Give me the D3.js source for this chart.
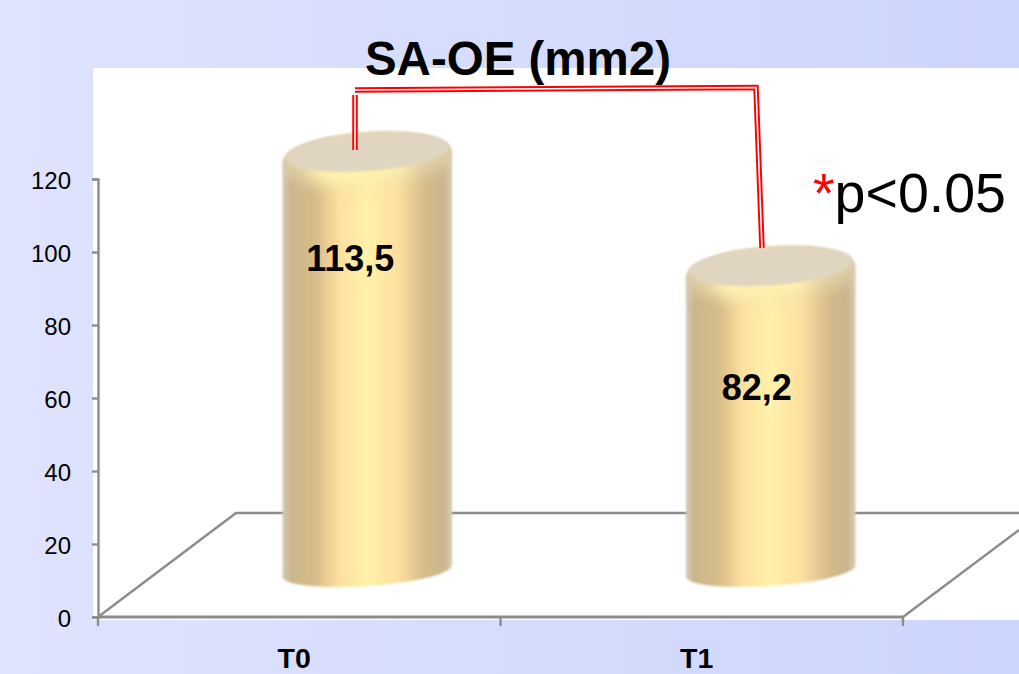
<!DOCTYPE html>
<html><head><meta charset="utf-8">
<script src="https://cdn.jsdelivr.net/npm/d3@7"></script>
<style>html,body{margin:0;padding:0;overflow:hidden}svg{display:block}text{font-family:"Liberation Sans",Arial,sans-serif}</style>
</head><body><svg id="c" width="1019" height="674"></svg>
<script>
const categories = ["T0","T1"];
const values = [113.5,82.2];
const valueLabels = ["113,5","82,2"];
const yTicks = [0,20,40,60,80,100,120];
const titleText = "SA-OE (mm2)";

const svg = d3.select("#c");
const defs = svg.append("defs");
const bg = defs.append("linearGradient").attr("id","bg");
[[0,"#dfe3fd"],[1,"#ccd5fc"]].forEach(s=>bg.append("stop").attr("offset",s[0]).attr("stop-color",s[1]));
const body = defs.append("linearGradient").attr("id","body");
[[0,"#d3cbb6"],[0.05,"#cab58c"],[0.2,"#d8bd8a"],[0.33,"#fedf9f"],[0.5,"#fff1aa"],[0.68,"#fedf9f"],[0.85,"#d4ba8c"],[0.95,"#c9b58d"],[1,"#d6cdb8"]]
 .forEach(s=>body.append("stop").attr("offset",s[0]).attr("stop-color",s[1]));
const blur = defs.append("filter").attr("id","soft").attr("x","-30%").attr("y","-80%").attr("width","160%").attr("height","260%");
blur.append("feGaussianBlur").attr("stdDeviation",8);
const edge = defs.append("filter").attr("id","edge").attr("x","-5%").attr("y","-5%").attr("width","110%").attr("height","110%");
edge.append("feGaussianBlur").attr("stdDeviation",1);

svg.append("rect").attr("width",1019).attr("height",674).attr("fill","url(#bg)");
svg.append("rect").attr("x",93).attr("y",68).attr("width",926).attr("height",552).attr("fill","#fff");

const y = d3.scaleLinear().domain([0,120]).range([617,179]);
const x = d3.scaleBand().domain(categories).range([98,903]);
const axisColor = "#8c8c8c";

// floor
const depthX = 138, depthY = 104;
svg.append("path").attr("fill","none").attr("stroke",axisColor).attr("stroke-width",2.4)
  .attr("d",d3.line()([[x.range()[0],y(0)],[x.range()[0]+depthX,y(0)-depthY],[1019,y(0)-depthY]]));
svg.append("path").attr("fill","none").attr("stroke",axisColor).attr("stroke-width",2.4)
  .attr("d",d3.line()([[x.range()[1],y(0)],[x.range()[1]+116,y(0)-87]]));

// axes
const yAxis = svg.append("g").attr("transform","translate(98,0)").call(d3.axisLeft(y).tickValues(yTicks).tickSize(6).tickPadding(19));
yAxis.selectAll("path,line").attr("stroke",axisColor).attr("stroke-width",2.4);
yAxis.selectAll("text").attr("font-size",24).attr("fill","#000").attr("dx",-2).attr("dy","0.38em").style("font-family","'Liberation Sans'");
const boundaries = [x.range()[0],x.range()[0]+x.step(),x.range()[1]];
const xg = svg.append("g");
xg.append("line").attr("x1",boundaries[0]).attr("x2",boundaries[2]).attr("y1",y(0)).attr("y2",y(0)).attr("stroke",axisColor).attr("stroke-width",3);
xg.selectAll(".t").data(boundaries).join("line").attr("x1",d=>d).attr("x2",d=>d).attr("y1",y(0)).attr("y2",y(0)+9).attr("stroke",axisColor).attr("stroke-width",2.4);
xg.selectAll("text").data(categories).join("text")
  .attr("x",d=>x(d)+x.bandwidth()/2-5).attr("y",667.5).attr("text-anchor","middle")
  .attr("font-size",28.5).attr("font-weight","bold").text(d=>d);

// cylinders
const rx=85, tilt=-4*Math.PI/180, dx=rx*Math.cos(tilt), dy=rx*Math.sin(tilt);
const cxOff=68, lift=45, botRy=15, shoulderRy=26;
const cx=(d,i)=>x(d)+x.bandwidth()/2+cxOff+(i?1:0);
const cyl = svg.selectAll(".cyl").data(categories).join("g").attr("class","cyl");
const clipG = defs.selectAll(".cp").data(categories).join("clipPath").attr("class","cp").attr("id",(d,i)=>"cp"+i);
function bodyPath(d,i){
  const c=cx(d,i), t=y(values[i])-lift, b=y(0)-46;
  return `M${c-dx},${t-dy} A${rx},${shoulderRy} -4 0 1 ${c+dx},${t+dy} L${c+dx},${b+dy} A${rx},${botRy} -4 0 1 ${c-dx},${b-dy} Z`;
}
clipG.append("path").attr("d",bodyPath);
cyl.append("path").attr("d",bodyPath).attr("fill","url(#body)").attr("filter","url(#edge)");
const inner = cyl.append("g").attr("clip-path",(d,i)=>`url(#cp${i})`);
inner.append("ellipse")
  .attr("cx",(d,i)=>cx(d,i)).attr("cy",(d,i)=>y(values[i])-lift+2)
  .attr("rx",88).attr("ry",24).attr("fill","#e6d6ae").attr("opacity",0.8).attr("filter","url(#soft)")
  .attr("transform",(d,i)=>`rotate(-4 ${cx(d,i)} ${y(values[i])-lift+2})`);
inner.append("ellipse")
  .attr("cx",(d,i)=>cx(d,i)-8).attr("cy",(d,i)=>y(values[i])-lift+8)
  .attr("rx",50).attr("ry",20).attr("fill","#fff3ac").attr("filter","url(#soft)")
  .attr("transform",(d,i)=>`rotate(-4 ${cx(d,i)} ${y(values[i])-lift+8})`);
cyl.append("ellipse")
  .attr("cx",(d,i)=>cx(d,i)).attr("cy",(d,i)=>y(values[i])-lift-6)
  .attr("rx",82).attr("ry",19.5).attr("fill","#e0d5c0").attr("filter","url(#edge)")
  .attr("transform",(d,i)=>`rotate(-4 ${cx(d,i)} ${y(values[i])-lift-6})`);

// value labels
const labelOff=[[51,68],[55,83]];
svg.selectAll(".v").data(categories).join("text").attr("class","v")
  .attr("x",(d,i)=>x(d)+x.bandwidth()/2+labelOff[i][0]).attr("y",(d,i)=>y(values[i])+labelOff[i][1])
  .attr("text-anchor","middle").attr("font-size",36).attr("font-weight","bold").attr("fill","#000")
  .text((d,i)=>valueLabels[i]);

// title
svg.append("text").attr("x",518).attr("y",75).attr("text-anchor","middle").attr("font-size",47.5).attr("font-weight","bold").attr("fill","#000").text(titleText);

// bracket
function dbl(pts){
  const g=svg.append("g").attr("fill","none");
  g.append("path").attr("d",d3.line()(pts)).attr("stroke","#f00").attr("stroke-width",5.5);
  g.append("path").attr("d",d3.line()(pts)).attr("stroke","#fff").attr("stroke-width",1.6);
}
dbl([[355,90],[756,87.5],[762,y(values[1])-lift-24]]);
dbl([[355,95],[355,150]]);

// p value
const p = svg.append("text").attr("x",813).attr("y",212).attr("font-size",55.5).attr("fill","#000");
p.append("tspan").attr("fill","#f00").text("*");
p.append("tspan").text("p<0.05");
</script></body></html>
